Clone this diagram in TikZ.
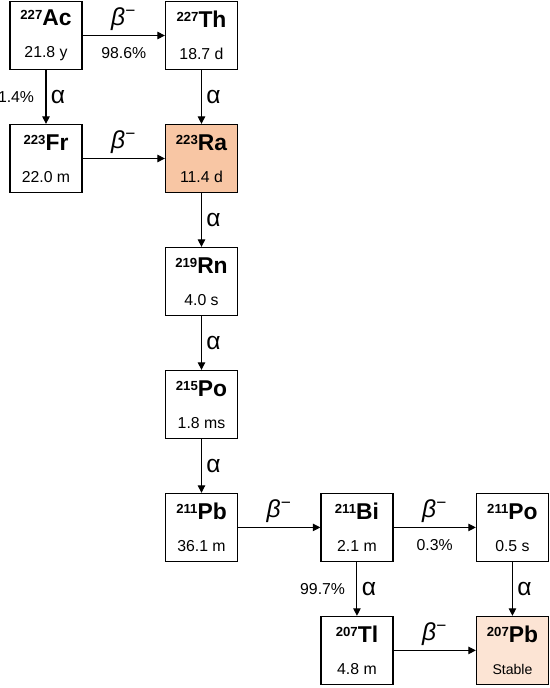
\documentclass[tikz,border=0pt]{standalone}
\usepackage{fontspec}
\setmainfont{Liberation Sans}
\usepackage{tikz}
\usetikzlibrary{arrows.meta, positioning}

\definecolor{raorange}{RGB}{248,198,164}
\definecolor{pbpeach}{RGB}{252,228,212}

% nuclide symbol with mass number
\newcommand{\nucl}[2]{{\fontsize{13}{15}\selectfont\bfseries\raisebox{3.4pt}{\fontsize{7.5}{8}\selectfont #1}#2}}
\newcommand{\bminus}{{\itshape β}\textsuperscript{−}}

\begin{document}
\begin{tikzpicture}[node distance=1.075cm and 1.645cm, >={Triangle[length=1.5mm, width=1.5mm]},
    nuclide/.style={draw, line width=0.7pt, rectangle, minimum width=1.44cm, minimum height=1.36cm, inner sep=0pt, align=center, font=\fontsize{9}{11}\selectfont},
    decay/.style={->, line width=0.6pt},
    mode/.style={font=\fontsize{14}{16}\selectfont, inner sep=2.5pt},
    branch/.style={font=\fontsize{9}{11}\selectfont, inner sep=6.5pt}]

    \useasboundingbox (0,0) rectangle (11,-13.76);

    % Ac-227 branch
    \node[nuclide] (ac227) at (0.92,-0.71) {\nucl{227}{Ac}\\[7pt]21.8 y};
    \node[nuclide, right=of ac227] (th227) {\nucl{227}{Th}\\[7pt]18.7 d};
    \node[nuclide, below=of ac227] (fr223) {\nucl{223}{Fr}\\[7pt]22.0 m};
    \node[nuclide, fill=raorange, below=of th227] (ra223) {\nucl{223}{Ra}\\[7pt]11.4 d};

    % main chain
    \node[nuclide, below=of ra223] (rn219) {\nucl{219}{Rn}\\[7pt]4.0 s};
    \node[nuclide, below=of rn219] (po215) {\nucl{215}{Po}\\[7pt]1.8 ms};
    \node[nuclide, below=of po215] (pb211) {\nucl{211}{Pb}\\[7pt]36.1 m};
    \node[nuclide, right=of pb211] (bi211) {\nucl{211}{Bi}\\[7pt]2.1 m};
    \node[nuclide, right=of bi211] (po211) {\nucl{211}{Po}\\[7pt]0.5 s};
    \node[nuclide, below=of bi211] (tl207) {\nucl{207}{Tl}\\[7pt]4.8 m};
    \node[nuclide, fill=pbpeach, below=of po211] (pb207) {\nucl{207}{Pb}\\[7pt]{\fontsize{8}{10}\selectfont Stable}};

    % Decays
    \draw[decay] (ac227) -- node[mode, above] {\bminus} node[branch, below] {98.6\%} (th227);
    \draw[decay] (ac227) -- node[mode, right] {α} node[branch, left] {1.4\%} (fr223);
    \draw[decay] (th227) -- node[mode, right] {α} (ra223);
    \draw[decay] (fr223) -- node[mode, above] {\bminus} (ra223);
    \draw[decay] (ra223) -- node[mode, right] {α} (rn219);
    \draw[decay] (rn219) -- node[mode, right] {α} (po215);
    \draw[decay] (po215) -- node[mode, right] {α} (pb211);
    \draw[decay] (pb211) -- node[mode, above] {\bminus} (bi211);
    \draw[decay] (bi211) -- node[mode, above] {\bminus} node[branch, below] {0.3\%} (po211);
    \draw[decay] (bi211) -- node[mode, right] {α} node[branch, left] {99.7\%} (tl207);
    \draw[decay] (po211) -- node[mode, right] {α} (pb207);
    \draw[decay] (tl207) -- node[mode, above] {\bminus} (pb207);

\end{tikzpicture}
\end{document}
